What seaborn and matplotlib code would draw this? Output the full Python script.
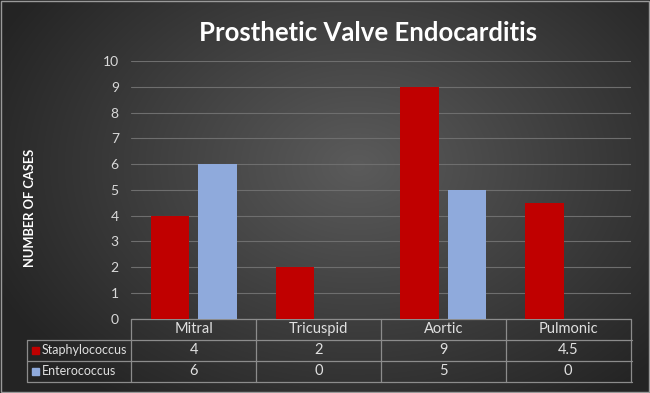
import numpy as np
import pandas as pd
import matplotlib
matplotlib.use("Agg")
import matplotlib.pyplot as plt
import matplotlib.transforms as mtransforms
from matplotlib.patches import Rectangle
import seaborn as sns

# ---- data ----
categories = ["Mitral", "Tricuspid", "Aortic", "Pulmonic"]
series_names = ["Staphylococcus", "Enterococcus"]
staphylococcus = [4, 2, 9, 4.5]
enterococcus = [6, 0, 5, 0]
y_ticks = [0, 1, 2, 3, 4, 5, 6, 7, 8, 9, 10]
title = "Prosthetic Valve Endocarditis"
y_label = "NUMBER OF CASES"
colors = ["#C00000", "#8FAADC"]

df = pd.DataFrame({
    "valve": categories * 2,
    "organism": [series_names[0]] * 4 + [series_names[1]] * 4,
    "cases": staphylococcus + enterococcus,
})

sns.set_theme(style="dark")
plt.rcParams["font.family"] = ["Lato", "DejaVu Sans"]

W, H = 650, 393
fig = plt.figure(figsize=(W / 100, H / 100), dpi=100)

# background radial gradient
bg = fig.add_axes([0, 0, 1, 1], zorder=-10)
yy, xx = np.mgrid[0:H, 0:W]
cx, cy = 0.55 * W, 0.42 * H
r = np.sqrt(((xx - cx) / (0.62 * W)) ** 2 + ((yy - cy) / (0.75 * H)) ** 2)
r = np.clip(r, 0, 1)
lo, hi = np.array([0x5b, 0x5b, 0x5b]) / 255, np.array([0x24, 0x24, 0x24]) / 255
img = lo[None, None, :] * (1 - r[..., None]) + hi[None, None, :] * r[..., None]
bg.imshow(img, extent=[0, 1, 0, 1], aspect="auto", origin="upper")
bg.set_axis_off()
fig.patch.set_facecolor("#3a3a3a")
fig.add_artist(Rectangle((0.001, 0.002), 0.998, 0.996, fill=False, edgecolor="#9a9a9a",
                         linewidth=1, transform=fig.transFigure))

def fx(px):
    return px / W

def fy(py):
    return 1 - py / H

ax_left, ax_right, ax_top, ax_bottom = 131.3, 630.5, 61.3, 318.5
ax = fig.add_axes([fx(ax_left), fy(ax_bottom), fx(ax_right - ax_left), (ax_bottom - ax_top) / H])
ax.set_facecolor("none")
ax.set_axisbelow(True)

sns.barplot(data=df, x="valve", y="cases", hue="organism", order=categories,
            hue_order=series_names, palette=colors, width=0.76, gap=0.19,
            saturation=1, legend=False, ax=ax, zorder=3, linewidth=0,
            edgecolor="none")

ax.set_ylim(0, 10)
ax.set_xlim(-0.5, len(categories) - 0.5)
ax.set_yticks(y_ticks)
ax.set_yticklabels([str(t) for t in y_ticks], color="#d9d9d9", fontsize=10)
ax.set_xticks([])
ax.set_xlabel("")
ax.set_ylabel("")
ax.tick_params(axis="y", length=0, pad=9)
ax.grid(axis="y", color="#6e6e6e", linewidth=0.8, zorder=0)
ax.grid(axis="x", visible=False)
for s in ax.spines.values():
    s.set_visible(False)

# title & y label
fig.text(fx(368), fy(33), title, ha="center", va="center", color="white",
         fontsize=18.5, fontweight="bold")
fig.text(fx(30), fy(208), y_label, ha="center", va="center", rotation=90,
         color="white", fontsize=9.3, fontweight="bold")

# ---- data table ----
tr = mtransforms.blended_transform_factory(ax.transData, fig.transFigure)
line_kw = dict(color="#8c8c8c", linewidth=0.9)
row_y = [318.8, 340, 360.7, 381.7]
table_left = 26.7
n = len(categories)
# horizontal lines
ax.plot([-0.5, n - 0.5], [fy(row_y[0])] * 2, transform=tr, clip_on=False, **line_kw)
for y in row_y[1:]:
    fig.add_artist(plt.Line2D([fx(table_left), fx(ax_right + 1)], [fy(y)] * 2, **line_kw))
# vertical lines
for i in range(n + 1):
    ax.plot([i - 0.5, i - 0.5], [fy(row_y[0]), fy(row_y[-1])], transform=tr,
            clip_on=False, **line_kw)
fig.add_artist(plt.Line2D([fx(table_left)] * 2, [fy(row_y[1]), fy(row_y[-1])], **line_kw))

txt_kw = dict(color="#e0e0e0", fontsize=10.5, ha="center", va="center")
for i, c in enumerate(categories):
    ax.text(i, fy((row_y[0] + row_y[1]) / 2), c, transform=tr, **txt_kw)
for r_i, (name, vals, col) in enumerate(zip(series_names, [staphylococcus, enterococcus], colors)):
    yc = (row_y[r_i + 1] + row_y[r_i + 2]) / 2
    fig.add_artist(Rectangle((fx(32), fy(yc + 3.5)), fx(7), 7 / H, color=col,
                             transform=fig.transFigure))
    fig.text(fx(41.5), fy(yc), name, color="#e0e0e0", fontsize=9, ha="left", va="center")
    for i, v in enumerate(vals):
        ax.text(i, fy(yc), f"{v:g}", transform=tr, **txt_kw)

fig.savefig("out.png", dpi=100)
